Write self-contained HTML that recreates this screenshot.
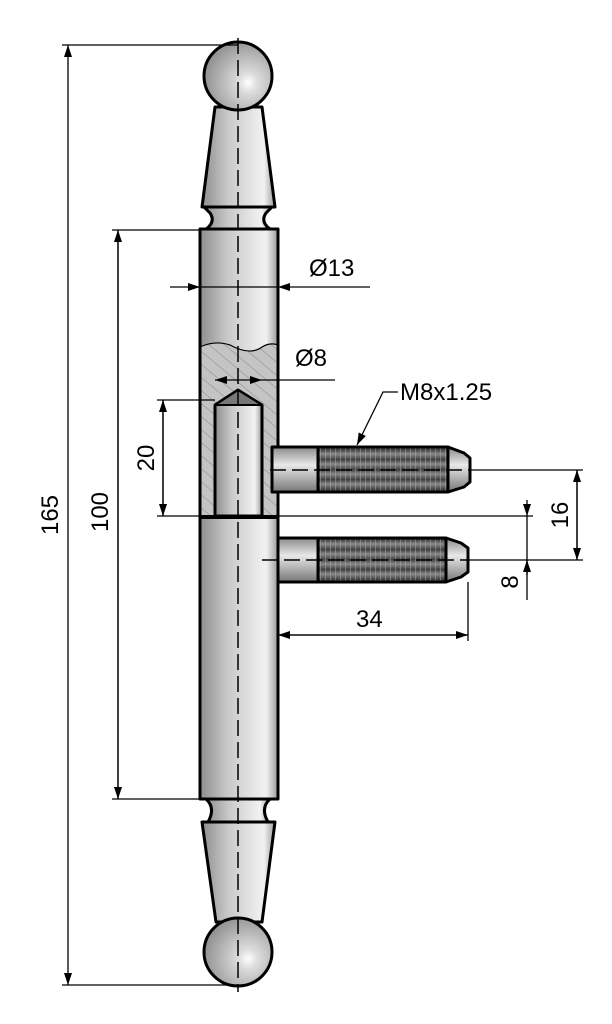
<!DOCTYPE html>
<html><head><meta charset="utf-8"><style>html,body{margin:0;padding:0;background:#fff}svg{display:block}</style></head><body>
<svg width="612" height="1024" viewBox="0 0 612 1024" xmlns="http://www.w3.org/2000/svg" font-family="Liberation Sans, sans-serif">
<defs>
<linearGradient id="g" x1="0" x2="1" y1="0" y2="0">
<stop offset="0" stop-color="#8e8e8e"/><stop offset="0.35" stop-color="#c8c8c8"/><stop offset="0.7" stop-color="#e6e6e6"/><stop offset="0.85" stop-color="#f2f2f2"/><stop offset="1" stop-color="#9a9a9a"/></linearGradient>
<linearGradient id="p" x1="0" x2="0" y1="0" y2="1">
<stop offset="0" stop-color="#8a8a8a"/><stop offset="0.4" stop-color="#e8e8e8"/><stop offset="1" stop-color="#777"/></linearGradient>
<linearGradient id="t" x1="0" x2="0" y1="0" y2="1">
<stop offset="0" stop-color="#444"/><stop offset="0.4" stop-color="#8a8a8a"/><stop offset="1" stop-color="#3a3a3a"/></linearGradient>
<radialGradient id="b" cx="0.65" cy="0.6" r="0.7"><stop offset="0" stop-color="#fff"/><stop offset="0.2" stop-color="#ddd"/><stop offset="1" stop-color="#8a8a8a"/></radialGradient>
<pattern id="h" width="10" height="10" patternUnits="userSpaceOnUse" patternTransform="rotate(-50)"><rect width="10" height="10" fill="#c4c4c4"/><line x1="0" y1="0" x2="0" y2="10" stroke="#888" stroke-width="1"/></pattern>
<pattern id="th" width="5" height="10" patternUnits="userSpaceOnUse"><rect width="5" height="10" fill="url(#t)"/><line x1="0" y1="0" x2="0" y2="10" stroke="#aaa" stroke-width="1"/></pattern>
<marker id="a" markerWidth="12" markerHeight="8" refX="12" refY="4" orient="auto" markerUnits="userSpaceOnUse"><path d="M0,0 L12,4 L0,8 z" fill="#000"/></marker>
</defs>
<g stroke="#000" stroke-width="3" stroke-linejoin="round">
<path d="M202,207 L275,207 L262,107 L215,107 Z" fill="url(#g)"/>
<path d="M204,207 L272,207 L266,213 Q260,222 270,229 L206,229 Q216,222 210,213 Z" fill="url(#g)"/>
<circle cx="238" cy="76" r="34" fill="url(#b)"/>
<rect x="200" y="229" width="78" height="570" fill="url(#g)"/>
<path d="M206,799 L270,799 Q260,808 268,822 L208,822 Q216,808 206,799 Z" fill="url(#g)"/>
<path d="M202,822 L275,822 L262,922 L216,922 Z" fill="url(#g)"/>
<circle cx="238" cy="952" r="34" fill="url(#b)"/>
<path d="M200,347 Q215,340 230,345 Q250,356 262,347 Q270,342 278,345 L278,516 L200,516 Z" fill="url(#h)" stroke-width="1.2"/>
<line x1="200" y1="347" x2="200" y2="516"/><line x1="278" y1="345" x2="278" y2="516"/>
<path d="M215,516 L215,405 L238,390 L262,405 L262,516 Z" fill="url(#g)"/>
<path d="M215,405 L238,390 L262,405 Z" fill="#777" stroke-width="2"/>
<line x1="200" y1="517" x2="278" y2="517" stroke-width="4"/>
<rect x="272" y="447" width="46" height="45" fill="url(#p)"/>
<rect x="318" y="447" width="130" height="45" fill="url(#th)"/>
<path d="M448,447 L464,453 L470,458 L470,482 L464,487 L448,492 Z" fill="url(#p)"/>
<rect x="278" y="538" width="40" height="44" fill="url(#p)"/>
<rect x="318" y="538" width="128" height="44" fill="url(#th)"/>
<path d="M446,538 L461,543 L468,548 L468,572 L461,577 L446,582 Z" fill="url(#p)"/>
</g>
<g stroke="#000" stroke-width="1.5" stroke-dasharray="16,6" fill="none">
<line x1="238" y1="38" x2="238" y2="992"/>
<line x1="270" y1="470" x2="470" y2="470"/>
<line x1="262" y1="560" x2="470" y2="560"/>
</g>
<g stroke="#000" stroke-width="1.3" fill="none">
<line x1="62" y1="45" x2="238" y2="45"/><line x1="62" y1="985" x2="238" y2="985"/>
<line x1="68" y1="515" x2="68" y2="45" marker-end="url(#a)"/><line x1="68" y1="515" x2="68" y2="985" marker-end="url(#a)"/>
<line x1="112" y1="230" x2="200" y2="230"/><line x1="112" y1="799" x2="200" y2="799"/>
<line x1="118" y1="230" x2="118" y2="799" marker-end="url(#a)"/><line x1="118" y1="799" x2="118" y2="230" marker-end="url(#a)"/>
<line x1="157" y1="400" x2="215" y2="400"/><line x1="157" y1="516" x2="533" y2="516"/>
<line x1="163" y1="400" x2="163" y2="516" marker-end="url(#a)"/><line x1="163" y1="516" x2="163" y2="400" marker-end="url(#a)"/>
<line x1="470" y1="470" x2="583" y2="470"/><line x1="470" y1="560" x2="583" y2="560"/>
<line x1="577" y1="470" x2="577" y2="560" marker-end="url(#a)"/><line x1="577" y1="560" x2="577" y2="470" marker-end="url(#a)"/>
<line x1="527" y1="516" x2="527" y2="600"/><line x1="527" y1="500" x2="527" y2="516" marker-end="url(#a)"/>
<line x1="527" y1="575" x2="527" y2="560" marker-end="url(#a)"/>
<line x1="278" y1="560" x2="278" y2="641"/><line x1="468" y1="582" x2="468" y2="641"/>
<line x1="278" y1="635" x2="468" y2="635" marker-end="url(#a)"/><line x1="468" y1="635" x2="278" y2="635" marker-end="url(#a)"/>
<line x1="170" y1="287" x2="200" y2="287" marker-end="url(#a)"/><line x1="370" y1="287" x2="278" y2="287" marker-end="url(#a)"/>
<line x1="200" y1="287" x2="278" y2="287"/>
<line x1="238" y1="380" x2="215" y2="380" marker-end="url(#a)"/><line x1="238" y1="380" x2="262" y2="380" marker-end="url(#a)"/>
<line x1="262" y1="380" x2="335" y2="380"/>
<polyline points="398,392 383,392 357,445" marker-end="url(#a)"/>
</g>
<g font-size="24" fill="#000">
<text x="309" y="276">Ø13</text>
<text x="295" y="366">Ø8</text>
<text x="400" y="400">M8x1.25</text>
<text x="356" y="627">34</text>
<text transform="translate(58,515) rotate(-90)" text-anchor="middle">165</text>
<text transform="translate(108,512) rotate(-90)" text-anchor="middle">100</text>
<text transform="translate(154,458) rotate(-90)" text-anchor="middle">20</text>
<text transform="translate(568,515) rotate(-90)" text-anchor="middle">16</text>
<text transform="translate(518,582) rotate(-90)" text-anchor="middle">8</text>
</g>
</svg>
</body></html>
